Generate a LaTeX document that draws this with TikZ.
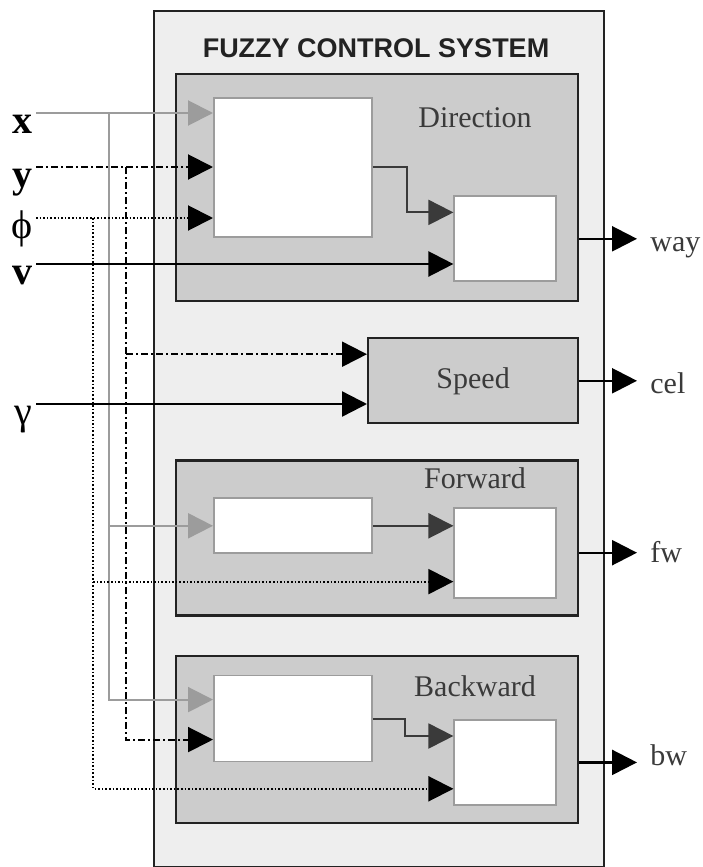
\documentclass[tikz,border=0pt]{standalone}
\usepackage{fontspec}
\setmainfont{Liberation Serif}
\setsansfont{Liberation Sans}
\usetikzlibrary{arrows.meta, positioning}
\definecolor{fcsouter}{HTML}{EEEEEE}
\definecolor{fcsgroup}{HTML}{CCCCCC}
\definecolor{fcsline}{HTML}{222222}
\definecolor{fcsgray}{HTML}{9C9C9C}
\definecolor{fcsdark}{HTML}{3A3A3A}

\begin{document}
\begin{tikzpicture}[
    x=0.5pt, y=-0.5pt,
    node distance=17.5pt,
    system/.style={draw=fcsline, line width=1.1pt, fill=fcsouter, minimum width=225pt, minimum height=428pt},
    group/.style={draw=fcsline, line width=1.1pt, fill=fcsgroup, minimum width=201pt},
    block/.style={draw=fcsgray, line width=0.9pt, fill=white, minimum width=79pt},
    rulebox/.style={block, minimum width=51pt, minimum height=42.5pt},
    systitle/.style={font=\sffamily\bfseries\fontsize{13.5}{16}\selectfont, text=fcsline},
    grouplabel/.style={font=\fontsize{15}{18}\selectfont, text=fcsdark},
    inlabel/.style={anchor=base east, inner sep=0pt, font=\fontsize{20}{24}\selectfont},
    outlabel/.style={anchor=base west, inner sep=0pt, font=\fontsize{15}{18}\selectfont, text=fcsdark},
    bigtip/.style={-{Triangle[length=12.5pt, width=12.5pt]}},
    xline/.style={bigtip, fcsgray, line width=1pt},
    yline/.style={bigtip, line width=1pt, dash pattern=on 3.5pt off 1.5pt on 1pt off 1.5pt},
    philine/.style={bigtip, line width=1pt, dash pattern=on 0.8pt off 1pt},
    solidline/.style={bigtip, line width=1.2pt},
    innerline/.style={bigtip, fcsdark, line width=1pt},
    outline/.style={bigtip, line width=1.2pt}
]

\useasboundingbox (0,0) rectangle (702,867);

% Frame
\node[system, anchor=north west] (fcs) at (153,10) {};
\node[systitle] (head) at (376,48) {FUZZY CONTROL SYSTEM};

% Groups
\node[group, minimum height=113.5pt, anchor=north west] (dir) at (175,73) {};
\node[group, minimum width=105pt, minimum height=42.5pt, below=of dir.south east, anchor=north east] (spd) {};
\node[group, minimum height=77.5pt, below=of spd.south east, anchor=north east] (fwd) {};
\node[group, minimum height=83.5pt, below=19pt of fwd.south east, anchor=north east] (bwd) {};

\node[grouplabel] (dirname) at (475,118) {Direction};
\node[grouplabel] (spdname) at (spd) {Speed};
\node[grouplabel] (fwdname) at (475,478) {Forward};
\node[grouplabel] (bwdname) at (475,686) {Backward};

% Blocks
\node[block, minimum height=69.5pt, below right=12pt and 19pt of dir.north west] (dira) {};
\node[rulebox, above left=10pt and 11pt of dir.south east] (dirb) {};
\node[block, minimum height=27.5pt, below right=19pt and 19pt of fwd.north west] (fwda) {};
\node[rulebox, minimum height=45pt, above left=9pt and 11pt of fwd.south east] (fwdb) {};
\node[block, minimum height=43pt, below right=10pt and 19pt of bwd.north west] (bwda) {};
\node[rulebox, above left=9pt and 11pt of bwd.south east] (bwdb) {};

% Inputs
\node[inlabel] (lx) at (33,133) {\textbf{x}};
\node[inlabel] (ly) at (33,187) {\textbf{y}};
\node[inlabel] (lphi) at (33,238) {ϕ};
\node[inlabel] (lv) at (33,284) {\textbf{v}};
\node[inlabel] (lgam) at (33,424) {γ};

\coordinate (ix) at (36,113);
\coordinate (iy) at (36,167);
\coordinate (iphi) at (36,218);
\coordinate (iv) at (36,264);
\coordinate (igam) at (36,404);
\coordinate (bx) at (109,113);
\coordinate (by) at (126,167);
\coordinate (bphi) at (93,218);

\coordinate (spdy) at ([yshift=-8.5pt]spd.north west);
\coordinate (bwdx) at ([yshift=-12.5pt]bwda.north west);
\coordinate (bwdy) at ([yshift=-32.5pt]bwda.north west);
\coordinate (fwdphi) at ([yshift=8.5pt]fwdb.south west);
\coordinate (bwdphi) at ([yshift=8.5pt]bwdb.south west);

\draw[xline] (ix) -- (ix -| dira.west);
\draw[xline] (bx) |- (fwda.west);
\draw[xline] (bx) |- (bwdx);

\draw[yline] (iy) -- (iy -| dira.west);
\draw[yline] (by) |- (bwdy);
\draw[yline] (by |- spdy) -- (spdy);

\draw[philine] (iphi) -- (iphi -| dira.west);
\draw[philine] (bphi) |- (bwdphi);
\draw[philine] (bphi |- fwdphi) -- (fwdphi);

\draw[solidline] (iv) -- (iv -| dirb.west);
\draw[solidline] (igam) -- (igam -| spd.west);

% Inside the groups
\draw[innerline] (dira.east) -- ++(17pt,0) |- ([yshift=-8.5pt]dirb.north west);
\draw[innerline] (fwda.east) -- (fwda.east -| fwdb.west);
\draw[innerline] (bwda.east) -- ++(16pt,0) |- ([yshift=-8.5pt]bwdb.north west);

% Outputs
\node[outlabel] (way) at (650,251) {way};
\node[outlabel] (cel) at (650,393) {cel};
\node[outlabel] (fw) at (650,562) {fw};
\node[outlabel] (bw) at (650,765) {bw};

\draw[outline, shorten >=6.5pt] (dir.east |- dirb) -- (way.west |- dirb);
\draw[outline, shorten >=6.5pt] (spd.east) -- (cel.west |- spd);
\draw[outline, shorten >=6.5pt] (fwd.east |- fwdb) -- (fw.west |- fwdb);
\draw[outline, shorten >=6.5pt] (bwd.east |- bwdb) -- (bw.west |- bwdb);

\end{tikzpicture}
\end{document}
